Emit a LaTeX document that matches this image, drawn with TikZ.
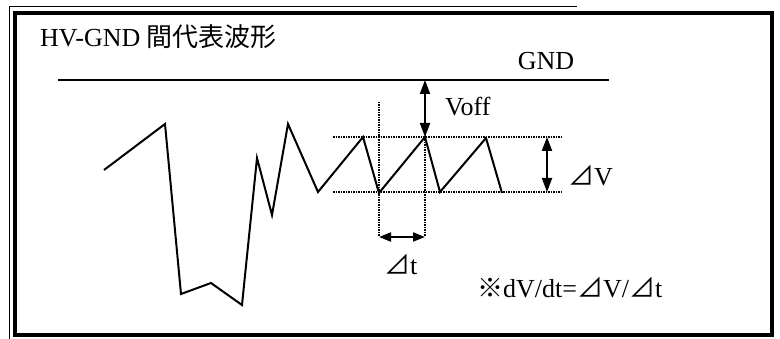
\documentclass[tikz,border=0pt]{standalone}
\usepackage{fontspec}
\setmainfont{Liberation Serif}
\newfontfamily\jpfont{Noto Sans CJK JP}
\usetikzlibrary{arrows.meta,positioning,calc}

\begin{document}
\begin{tikzpicture}[
  x=1pt, y=-1pt,
  >={Triangle[length=14pt,width=10pt]},
  wave/.style={line width=2pt, line join=miter},
  guide/.style={line width=1.5pt, dash pattern=on 1.5pt off 1pt},
  dim/.style={<->, line width=2pt},
  lbl/.style={inner sep=0pt, font=\fontsize{26}{30}\selectfont}
]
\useasboundingbox (0,0) rectangle (780,339);
% frame
\draw[line width=4pt] (15,13) rectangle (772,335);
\draw[line width=0.8pt] (9,339) -- (9,6) -- (577,6);

\node[lbl, anchor=base west] (title) at (40,47) {HV-GND {\jpfont 間代表波形}};

% GND line
\coordinate (gndL) at (58,80);
\coordinate (gndR) at (609,80);
\draw[line width=2pt] (gndL) -- (gndR);
\node[lbl, anchor=base] (gnd) at (546,70) {GND};

% waveform
\draw[wave] (104,170) -- (165,124) -- (181,294) -- (211,283) -- (242,305)
  -- (257,158) -- (272,215) -- (288,124) -- (318,192) -- (363,137)
  -- (379,193) -- (425,137) -- (440,192) -- (486,138) -- (502,193);

% guides
\coordinate (hiL) at (333,137);
\coordinate (hiR) at (563,137);
\coordinate (loL) at (333,192);
\coordinate (loR) at (563,192);
\draw[guide] (hiL) -- (hiR);
\draw[guide] (loL) -- (loR);
\coordinate (t1top) at (379,102);
\coordinate (t1) at (379,237);
\coordinate (t2top) at (425,137);
\coordinate (t2) at (425,237);
\draw[guide] (t1top) -- (t1);
\draw[guide] (t2top) -- (t2);

% dimensions
\coordinate (voffA) at (425,80);
\coordinate (voffB) at (425,137);
\draw[dim] (voffA) -- (voffB);
\node[lbl, anchor=base west] (voff) at (445,116) {Voff};

\coordinate (dvA) at (547,137);
\coordinate (dvB) at (547,192);
\draw[dim] (dvA) -- (dvB);
\node[lbl, anchor=base west] (dv) at (568,186) {{\jpfont ⊿}V};

\draw[dim, >={Triangle[length=12pt,width=9pt]}] (t1) -- (t2);
\node[lbl, anchor=base west] (dt) at (384,275) {{\jpfont ⊿}t};

\node[lbl, anchor=base west] (formula) at (477,298) {{\jpfont ※}dV/dt={\jpfont ⊿}V/{\jpfont ⊿}t};
\end{tikzpicture}
\end{document}
